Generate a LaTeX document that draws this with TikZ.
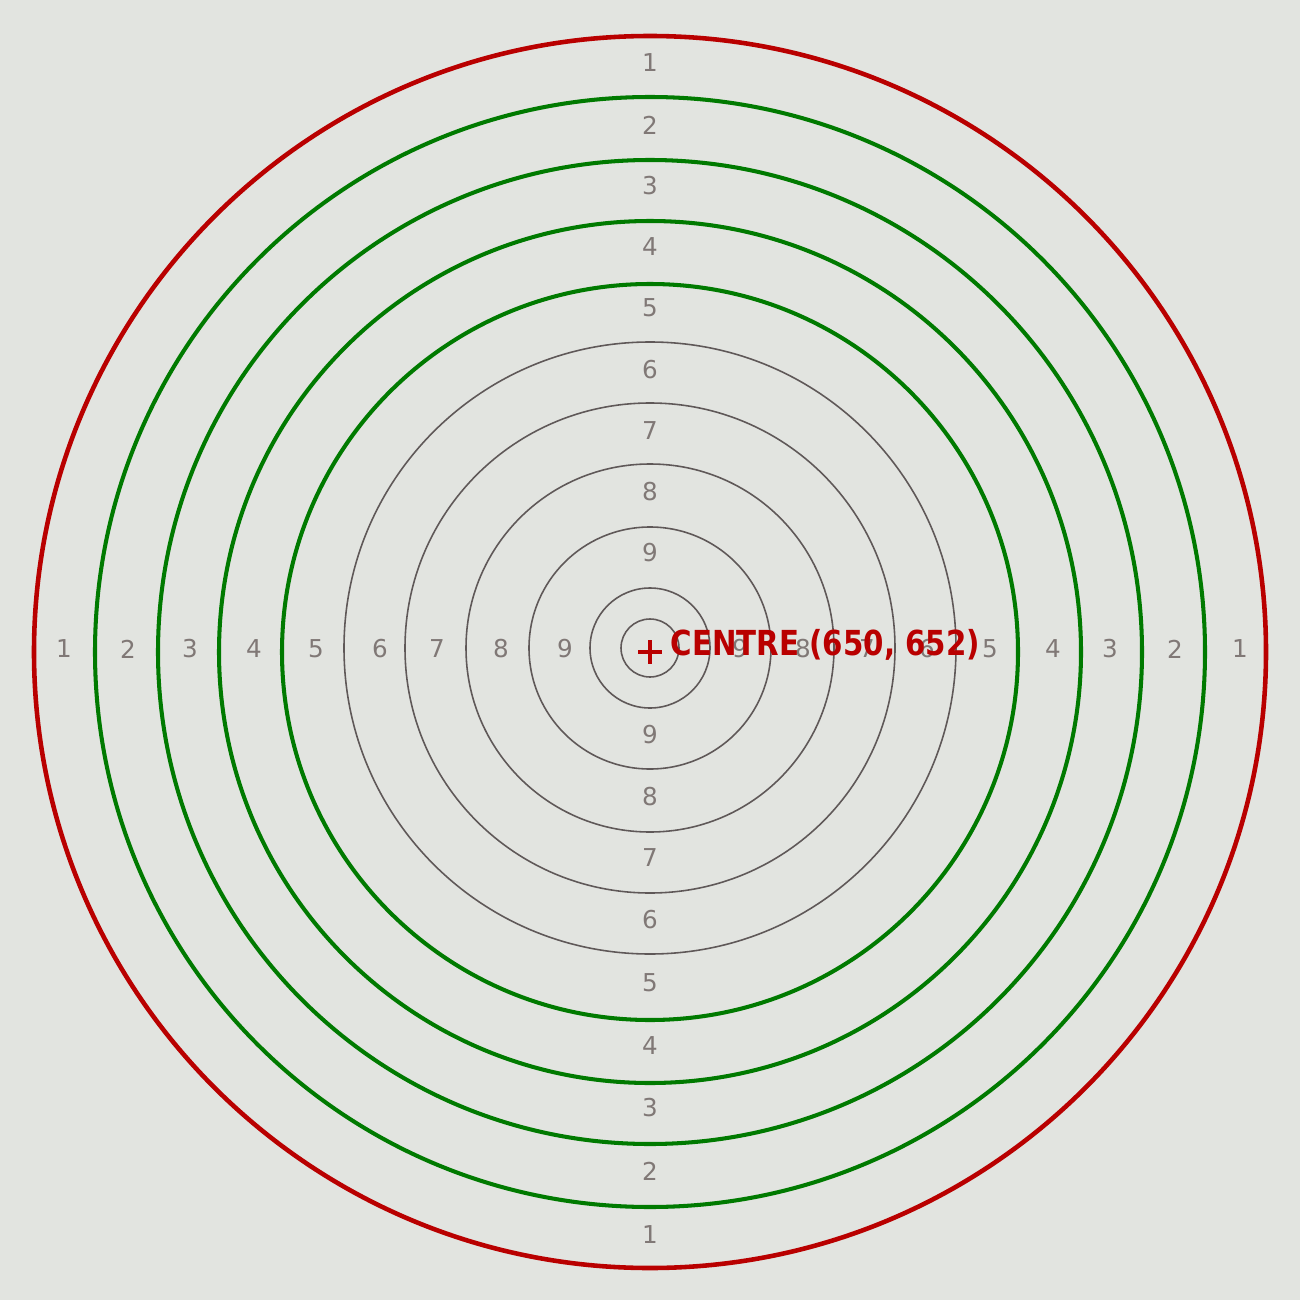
\documentclass[tikz,border=0pt]{standalone}
\usepackage{fontspec}
\setmainfont{DejaVu Sans}
\definecolor{bg}{RGB}{226,228,224}
\definecolor{ringgray}{RGB}{95,88,88}
\definecolor{labgray}{RGB}{128,120,118}
\definecolor{tgreen}{RGB}{0,122,0}
\definecolor{tred}{RGB}{185,0,0}
\begin{document}
\begin{tikzpicture}[x=0.01cm,y=-0.01cm,
  grayring/.style={draw=ringgray,line width=0.45pt},
  greenring/.style={draw=tgreen,line width=1.15pt},
  redring/.style={draw=tred,line width=1.3pt},
  lab/.style={text=labgray,inner sep=0pt,anchor=center,font=\fontsize{7}{8}\selectfont},
  centrelbl/.style={text=tred,inner sep=0pt,anchor=base west,font=\bfseries\fontsize{9.8}{10}\selectfont}]
\fill[bg] (0,0) rectangle (1300,1300);
\useasboundingbox (0,0) rectangle (1300,1300);
\coordinate (tc) at (650,648);
\coordinate (c) at (650,652);
% printed rings
\foreach \r in {306,245,184,121,60,29}
  \draw[grayring] (tc) circle[radius=\r];
% labels
\foreach \n/\y in {1/63,2/125,3/186,4/247,5/308,6/370,7/431,8/492,9/553}
  \node[lab] (top\n) at (650,\y) {\n};
\foreach \n/\y in {1/1235,2/1171,3/1108,4/1046,5/983,6/920,7/858,8/797,9/735}
  \node[lab] (bot\n) at (650,\y) {\n};
\foreach \n/\x in {1/64,2/128,3/190,4/254,5/316,6/380,7/437,8/501,9/565}
  \node[lab] (lft\n) at (\x,649) {\n};
\foreach \n/\x in {1/1240,2/1175,3/1110,4/1053,5/990,6/927,7/867,8/803,9/740}
  \node[lab] (rgt\n) at (\x,649) {\n};
% annotated rings
\foreach \r in {555,492,431,368}
  \draw[greenring] (c) circle[radius=\r];
\draw[redring] (c) circle[radius=616];
% centre mark
\draw[tred,line width=1pt] (c) ++(-12,0) -- ++(24,0);
\draw[tred,line width=1pt] (c) ++(0,-12) -- ++(0,24);
\node[centrelbl] (centre) at (670,655) {\scalebox{0.85}[1]{CENTRE (650, 652)}};
\end{tikzpicture}
\end{document}
